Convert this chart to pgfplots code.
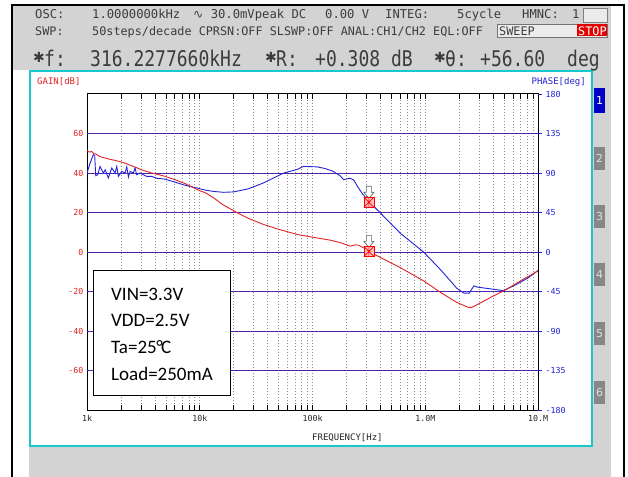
\documentclass[border=0pt]{standalone}
\usepackage{graphicx}
\usepackage{fontspec}
\setmainfont{Carlito}
\newfontfamily\pix{DejaVu Sans Mono}
\newfontfamily\djv{DejaVu Sans}
\usepackage{pgfplots}
\pgfplotsset{compat=1.18}
\usepackage{pgfplotstable}
\definecolor{bg}{RGB}{211,211,211}
\definecolor{cy}{RGB}{24,200,205}
\definecolor{gr}{RGB}{225,35,35}
\definecolor{pb}{RGB}{35,35,215}
\definecolor{hdr}{RGB}{60,60,60}
\definecolor{btn}{RGB}{135,135,135}
\definecolor{btnb}{RGB}{0,0,200}
\newcommand\tk{\pix\fontsize{8.3bp}{9bp}\selectfont}
\newcommand\hA{\pix\fontsize{12.2bp}{14bp}\selectfont}
\newcommand\hB{\pix\fontsize{11.8bp}{14bp}\selectfont}
\newcommand\hC{\pix\fontsize{18bp}{20bp}\selectfont}

\pgfplotstableread{
f g
1000 51.5
1030 50.8
1060 50.6
1100 50.9
1150 49.8
1200 49.6
1300 48.3
1445 47.6
1600 46.9
1773 46.4
2000 45.6
2174 45.0
2400 44.0
2667 43.0
3160 41.3
3757 40.0
4300 39.2
4930 38.3
6052 36.6
7424 34.6
9000 32.3
10000 31.0
11200 30.0
13000 27.8
16000 24.0
21300 20.0
27000 17.0
36600 14.0
50000 11.5
73000 8.9
100000 7.5
144000 6.0
177000 4.7
216000 3.0
240000 3.6
255000 3.5
290000 1.8
316228 0.31
401000 -2.8
600000 -7.9
965000 -14.6
1370000 -20.5
1900000 -25.5
2400000 -28.0
2600000 -28.0
3800000 -23.0
5300000 -18.8
7400000 -13.8
10000000 -9.6
}\gaindata

\pgfplotstableread{
f p
1000 90
1063 101
1137 110.8
1170 110
1195 86.9
1245 88
1305 97.5
1396 90
1450 93.7
1546 84.3
1657 95.7
1773 90
1836 97.5
1898 86.1
2032 91.8
2174 90
2253 97
2330 85.4
2409 91.8
2578 90
2667 95.7
2760 88
2955 90
3160 88
3387 86.1
3757 86.1
4160 84
4930 83
6052 79.5
7424 76
9740 72.5
11160 70.5
13300 69
16300 68
20000 68.5
27000 72
36600 78.6
55600 90
73000 94
83000 97.5
110000 97
130000 95
153000 91.8
177000 86.5
189000 82.3
205000 83.5
216000 84
232000 82
250000 75
275000 67
316228 57.5
401000 44.3
600000 21.5
965000 0
1370000 -20.3
1900000 -41.2
2200000 -46.9
2450000 -46.9
2700000 -38.5
2900000 -40
3800000 -42
4900000 -44
6100000 -38.5
8100000 -29.8
10000000 -21
}\phasedata

\pgfdeclareplotmark{cursor}{%
  \pgfsetlinewidth{0.7bp}%
  \pgfsetstrokecolor{black!60}\pgfsetfillcolor{white}%
  \pgfpathmoveto{\pgfpoint{-2.5bp}{16bp}}%
  \pgfpathlineto{\pgfpoint{2.5bp}{16bp}}%
  \pgfpathlineto{\pgfpoint{2.5bp}{10bp}}%
  \pgfpathlineto{\pgfpoint{5bp}{10bp}}%
  \pgfpathlineto{\pgfpoint{0bp}{4bp}}%
  \pgfpathlineto{\pgfpoint{-5bp}{10bp}}%
  \pgfpathlineto{\pgfpoint{-2.5bp}{10bp}}%
  \pgfpathclose
  \pgfusepath{fill,stroke}%
  \pgfsetstrokecolor{red}\pgfsetfillcolor{red!25}%
  \pgfpathrectangle{\pgfpoint{-5bp}{-5bp}}{\pgfpoint{10bp}{10bp}}%
  \pgfusepath{fill,stroke}%
  \pgfpathmoveto{\pgfpoint{-5bp}{-5bp}}\pgfpathlineto{\pgfpoint{5bp}{5bp}}%
  \pgfpathmoveto{\pgfpoint{-5bp}{5bp}}\pgfpathlineto{\pgfpoint{5bp}{-5bp}}%
  \pgfpathmoveto{\pgfpoint{0bp}{-5bp}}\pgfpathlineto{\pgfpoint{0bp}{5bp}}%
  \pgfusepath{stroke}%
}

\begin{document}
\begin{tikzpicture}
\begin{scope}[x=1bp,y=-1bp]
\useasboundingbox (0,0) rectangle (628,477);
\fill[white] (0,0) rectangle (628,477);
\fill[bg] (13,6) rectangle (611,70);
\fill[bg] (29,70) rectangle (611,477);
\fill[white] (30,71) rectangle (592,446);
\draw[cy, line width=2.5bp] (30,71) rectangle (592,446);
\draw[black, line width=1.5bp] (12,477) -- (12,5) -- (624,5) -- (624,477);
% header line 1
\node[anchor=base west, inner sep=0, font=\hA, text=hdr] at (35,19) {OSC:};
\node[anchor=base west, inner sep=0, font=\hA, text=hdr] at (92,19) {1.0000000kHz};
\node[anchor=base west, inner sep=0, font=\hA, text=hdr] at (193,19) {{\djv ∿} 30.0mVpeak DC};
\node[anchor=base west, inner sep=0, font=\hA, text=hdr] at (325,19) {0.00 V};
\node[anchor=base west, inner sep=0, font=\hA, text=hdr] at (385,19) {INTEG:};
\node[anchor=base west, inner sep=0, font=\hA, text=hdr] at (457,19) {5cycle};
\node[anchor=base west, inner sep=0, font=\hA, text=hdr] at (522,19) {HMNC:};
\node[anchor=base west, inner sep=0, font=\hA, text=hdr] at (572,19) {1};
\draw[black!50, fill=black!8, line width=0.8bp] (583,8) rectangle (607,22);
% header line 2
\node[anchor=base west, inner sep=0, font=\hB, text=hdr] at (35,35.5) {SWP:};
\node[anchor=base west, inner sep=0, font=\hB, text=hdr] at (92,35.5) {50steps/decade CPRSN:OFF SLSWP:OFF ANAL:CH1/CH2 EQL:OFF};
\draw[black!55, fill=black!8, line width=0.8bp] (497,24) rectangle (607,37);
\node[anchor=base west, inner sep=0, font=\hB, text=hdr] at (499,35.3) {SWEEP};
\fill[red!90!black] (577,24.5) rectangle (607,36.5);
\node[anchor=base west, inner sep=0, font=\hB, text=white] at (578,35.3) {STOP};
% header line 3
\node[anchor=base west, inner sep=0, font=\djv\fontsize{14bp}{14bp}\selectfont, text=hdr] at (33,63) {✱};
\node[anchor=base west, inner sep=0, font=\hC, text=hdr] at (44,66.5) {\scalebox{1}[1.2]{f:}};
\node[anchor=base west, inner sep=0, font=\hC, text=hdr] at (90,66.5) {\scalebox{1}[1.2]{316.2277660kHz}};
\node[anchor=base west, inner sep=0, font=\djv\fontsize{14bp}{14bp}\selectfont, text=hdr] at (265,63) {✱};
\node[anchor=base west, inner sep=0, font=\hC, text=hdr] at (276,66.5) {\scalebox{1}[1.2]{R:}};
\node[anchor=base west, inner sep=0, font=\hC, text=hdr] at (315,66.5) {\scalebox{1}[1.2]{+0.308 dB}};
\node[anchor=base west, inner sep=0, font=\djv\fontsize{14bp}{14bp}\selectfont, text=hdr] at (434,63) {✱};
\node[anchor=base west, inner sep=0, font=\hC, text=hdr] at (445,66.5) {\scalebox{1}[1.2]{θ:}};
\node[anchor=base west, inner sep=0, font=\hC, text=hdr] at (480,66.5) {\scalebox{1}[1.2]{+56.60}};
\node[anchor=base west, inner sep=0, font=\hC, text=hdr] at (567,66.5) {\scalebox{1}[1.2]{deg}};
% side buttons
\fill[btnb] (594,88) rectangle (605,113);
\node[text=white, font=\djv\fontsize{11bp}{11bp}\selectfont, inner sep=0] at (599.5,100.5) {1};
\foreach \n/\y in {2/147,3/205,4/263,5/322,6/381}{
  \fill[btn] (594,\y) rectangle (605,\y+23);
  \node[text=black!12, font=\djv\fontsize{11bp}{11bp}\selectfont, inner sep=0] at (599.5,\y+11.5) {\n};
}
% axis titles
\node[anchor=west, inner sep=0, font=\pix\fontsize{9bp}{10bp}\selectfont, text=gr] at (37,82) {GAIN[dB]};
\node[anchor=east, inner sep=0, font=\pix\fontsize{9bp}{10bp}\selectfont, text=pb] at (586,82) {PHASE[deg]};
\node[anchor=west, inner sep=0, font=\pix\fontsize{9bp}{10bp}\selectfont, text=black!85] at (312,438) {FREQUENCY[Hz]};
\end{scope}

% axis 1: frame, x ticks, vertical grid
\begin{axis}[scale only axis, width=451bp, height=316bp,
  at={(87bp,-410bp)}, anchor=south west, xmode=log, xmin=1000, xmax=10000000,
  ymin=-80, ymax=80, ytick=\empty,
  xtick={1000,10000,100000,1000000,10000000},
  xticklabels={1k,10k,100k,1.0M,10.M},
  minor xtick={2000,3000,4000,5000,6000,7000,8000,9000,20000,30000,40000,50000,60000,70000,80000,90000,200000,300000,400000,500000,600000,700000,800000,900000,2000000,3000000,4000000,5000000,6000000,7000000,8000000,9000000},
  xmajorgrids, xminorgrids,
  major grid style={black!45, dash pattern=on 1.5bp off 1.5bp, line width=0.6bp},
  minor grid style={black!45, dash pattern=on 1.5bp off 1.5bp, line width=0.6bp},
  tick align=inside, major tick length=5bp, minor tick length=5bp,
  every tick/.style={black, line width=0.6bp},
  xticklabel style={font=\tk, text=black!85, yshift=-2bp},
  axis line style={black, line width=1bp}]
\end{axis}

% axis 2: gain grid and labels
\begin{axis}[scale only axis, width=451bp, height=316bp,
  at={(87bp,-410bp)}, anchor=south west, xmode=log, xmin=1000, xmax=10000000,
  ymin=-80, ymax=80, xtick=\empty,
  ytick={-60,-40,-20,0,20,40,60}, ymajorgrids,
  major grid style={gr, line width=0.6bp},
  ytick style={draw=none}, ytick pos=left,
  yticklabel style={font=\tk, text=gr},
  /pgf/number format/assume math mode=true,
  axis line style={draw=none}]
\end{axis}

% axis 3: phase
\begin{axis}[scale only axis, width=451bp, height=316bp,
  at={(87bp,-410bp)}, anchor=south west, xmode=log, xmin=1000, xmax=10000000,
  ymin=-180, ymax=180, xtick=\empty,
  ytick={-135,-90,-45,0,45,90,135}, ymajorgrids,
  extra y ticks={-180,180},
  extra y tick style={grid=none},
  major grid style={pb, dash pattern=on 2.5bp off 1.5bp, line width=0.7bp},
  ytick pos=right, tick align=outside, major tick length=4bp,
  ytick style={pb, line width=0.8bp},
  yticklabel style={font=\tk, text=pb},
  /pgf/number format/assume math mode=true,
  axis line style={draw=none}]
\addplot[pb, line width=0.9bp] table[x=f, y=p] {\phasedata};
\addplot[only marks, mark=cursor] coordinates {(316228,56.6)};
\end{axis}

% axis 4: gain curve
\begin{axis}[scale only axis, width=451bp, height=316bp,
  at={(87bp,-410bp)}, anchor=south west, xmode=log, xmin=1000, xmax=10000000,
  ymin=-80, ymax=80, hide axis]
\addplot[gr, line width=0.9bp] table[x=f, y=g] {\gaindata};
\addplot[only marks, mark=cursor] coordinates {(316228,0.308)};
\end{axis}

\begin{scope}[x=1bp,y=-1bp]
\draw[black, line width=1.2bp, fill=white] (93.3,270.7) rectangle (230.7,395.7);
\node[anchor=base west, inner sep=0, font=\fontsize{19bp}{22bp}\selectfont] at (111,300) {VIN=3.3V};
\node[anchor=base west, inner sep=0, font=\fontsize{19bp}{22bp}\selectfont] at (111,326.7) {VDD=2.5V};
\node[anchor=base west, inner sep=0, font=\fontsize{19bp}{22bp}\selectfont] at (111,353.3) {Ta=25\kern-0.5bp°\kern-1.5bp C};
\node[anchor=base west, inner sep=0, font=\fontsize{19bp}{22bp}\selectfont] at (111,380) {Load=250mA};
\end{scope}
\end{tikzpicture}
\end{document}
